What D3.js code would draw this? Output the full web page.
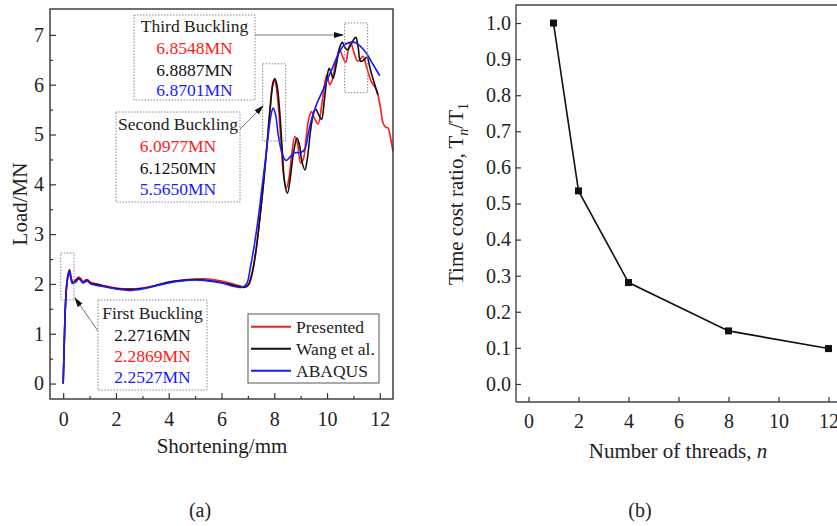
<!DOCTYPE html>
<html>
<head>
<meta charset="utf-8">
<script src="https://cdn.jsdelivr.net/npm/d3@7"></script>
<style>
  body { margin: 0; background: #fff; }
  svg { display: block; font-family: "Liberation Serif", "DejaVu Serif", serif; }
</style>
</head>
<body>
<svg id="chart" width="837" height="526"></svg>
<script>
// Panel (a): load vs shortening, three series as [shortening mm, load MN]
const presented = [
  [0,0],[0.04,0.8],[0.08,1.5],[0.13,1.97],[0.18,2.18],[0.24,2.29],[0.3,2.15],[0.36,2.04],
  [0.45,2.07],[0.6,2.14],[0.76,2.05],[0.9,2.09],[1.05,2.03],[1.2,2.01],[1.5,1.97],[2.0,1.92],
  [2.5,1.9],[3.0,1.92],[3.5,1.97],[4.0,2.03],[4.5,2.08],[5.0,2.1],[5.5,2.1],[6.0,2.06],
  [6.5,1.99],[6.9,1.94],[7.05,2.0],[7.2,2.3],[7.33,2.75],[7.47,3.4],[7.6,4.1],[7.72,4.8],
  [7.85,5.6],[7.94,6.02],[7.99,6.1],[8.05,6.03],[8.15,5.6],[8.25,4.9],[8.35,4.2],[8.46,3.92],
  [8.55,4.1],[8.66,4.6],[8.78,4.96],[8.88,4.82],[9.0,4.43],[9.1,4.5],[9.2,4.9],[9.3,5.3],
  [9.41,5.46],[9.52,5.33],[9.66,5.21],[9.8,5.6],[9.92,6.05],[10.0,6.2],[10.1,6.0],[10.2,6.1],
  [10.35,6.5],[10.48,6.7],[10.6,6.55],[10.71,6.45],[10.8,6.68],[10.9,6.85],[11.0,6.68],
  [11.17,6.47],[11.36,6.57],[11.5,6.35],[11.68,6.06],[11.84,5.93],[11.93,5.8],[12.05,5.45],
  [12.12,5.23],[12.22,5.15],[12.31,5.13],[12.4,4.95],[12.5,4.66]
];
const wang = [
  [0,0],[0.04,0.8],[0.08,1.5],[0.13,1.96],[0.18,2.16],[0.23,2.27],[0.29,2.13],[0.35,2.02],
  [0.45,2.05],[0.6,2.12],[0.76,2.03],[0.9,2.08],[1.05,2.01],[1.2,2.0],[1.5,1.96],[2.0,1.91],
  [2.5,1.89],[3.0,1.91],[3.5,1.97],[4.0,2.04],[4.5,2.07],[5.0,2.09],[5.5,2.07],[6.0,2.03],
  [6.5,1.97],[6.85,1.93],[7.0,1.97],[7.15,2.2],[7.3,2.65],[7.45,3.3],[7.6,4.05],[7.72,4.75],
  [7.85,5.55],[7.95,6.02],[8.02,6.125],[8.1,6.0],[8.2,5.5],[8.3,4.7],[8.4,4.0],[8.5,3.82],
  [8.6,4.1],[8.72,4.6],[8.86,4.93],[8.95,4.8],[9.05,4.45],[9.16,4.29],[9.25,4.5],[9.38,5.1],
  [9.5,5.45],[9.57,5.51],[9.68,5.4],[9.79,5.3],[9.9,5.7],[10.0,6.15],[10.08,6.33],[10.15,6.25],
  [10.23,6.13],[10.35,6.4],[10.48,6.75],[10.58,6.85],[10.68,6.75],[10.76,6.7],[10.9,6.8],
  [11.0,6.9],[11.09,6.95],[11.18,6.75],[11.27,6.47],[11.4,6.5],[11.52,6.55],[11.6,6.4],
  [11.68,6.23],[11.81,6.0],[11.93,5.8]
];
const abaqus = [
  [0,0],[0.04,0.8],[0.08,1.5],[0.13,1.95],[0.18,2.15],[0.23,2.25],[0.29,2.12],[0.35,2.01],
  [0.45,2.03],[0.6,2.1],[0.76,2.02],[0.9,2.06],[1.05,2.0],[1.2,1.98],[1.5,1.95],[2.0,1.9],
  [2.5,1.87],[3.0,1.9],[3.5,1.96],[4.0,2.02],[4.5,2.06],[5.0,2.08],[5.5,2.06],[6.0,2.02],
  [6.4,1.96],[6.76,1.93],[6.95,2.0],[7.1,2.35],[7.25,2.8],[7.4,3.35],[7.55,4.0],[7.7,4.63],
  [7.82,5.2],[7.9,5.45],[7.96,5.53],[8.05,5.4],[8.15,5.0],[8.28,4.65],[8.4,4.5],[8.46,4.48],
  [8.6,4.55],[8.75,4.63],[9.0,4.64],[9.15,4.7],[9.3,5.05],[9.41,5.3],[9.6,5.6],[9.85,5.9],
  [10.05,6.15],[10.23,6.37],[10.4,6.58],[10.6,6.77],[10.8,6.84],[11.05,6.85],[11.25,6.78],
  [11.49,6.63],[11.75,6.4],[12.0,6.18]
];
const seriesNames = ['Presented', 'Wang et al.', 'ABAQUS'];
const seriesColors = ['#ff1a1a', '#111111', '#1a1aff'];

// Buckling annotations: label lines [text, colour]
const thirdLabels = [['Third Buckling', '#222'], ['6.8548MN', '#ff1a1a'], ['6.8887MN', '#111'], ['6.8701MN', '#1a1aff']];
const secondLabels = [['Second Buckling', '#222'], ['6.0977MN', '#ff1a1a'], ['6.1250MN', '#111'], ['5.5650MN', '#1a1aff']];
const firstLabels = [['First Buckling', '#222'], ['2.2716MN', '#111'], ['2.2869MN', '#ff1a1a'], ['2.2527MN', '#1a1aff']];

// Panel (b): time cost ratio vs number of threads
const threads = [1, 2, 4, 8, 12];
const timeRatio = [1.0, 0.535, 0.281, 0.147, 0.098];

const svg = d3.select('#chart');
const defs = svg.append('defs');
defs.append('marker')
  .attr('id', 'arrowHead')
  .attr('markerWidth', 10)
  .attr('markerHeight', 8)
  .attr('refX', 9)
  .attr('refY', 4)
  .attr('orient', 'auto')
  .attr('markerUnits', 'userSpaceOnUse')
  .append('polygon')
  .attr('points', '0 1, 10 4, 0 7')
  .attr('fill', '#111');

// ---------- Panel (a) ----------
const a = { left: 50, right: 393, top: 9, bottom: 399 };
const xa = d3.scaleLinear().domain([-0.5, 12.5]).range([a.left, a.right]);
const ya = d3.scaleLinear().domain([-0.31, 7.52]).range([a.bottom, a.top]);

const gA = svg.append('g');

// inward ticks
gA.append('g')
  .attr('transform', `translate(0,${a.bottom})`)
  .call(d3.axisBottom(xa).tickValues(d3.range(1, 13, 2)).tickSize(-3).tickFormat(''))
  .call(g => g.select('.domain').remove());
gA.append('g')
  .attr('transform', `translate(0,${a.bottom})`)
  .call(d3.axisBottom(xa).tickValues(d3.range(0, 13, 2)).tickSize(-6).tickPadding(13))
  .call(g => g.select('.domain').remove());
gA.append('g')
  .attr('transform', `translate(${a.left},0)`)
  .call(d3.axisLeft(ya).tickValues(d3.range(0.5, 7.5, 1)).tickSize(-3).tickFormat(''))
  .call(g => g.select('.domain').remove());
gA.append('g')
  .attr('transform', `translate(${a.left},0)`)
  .call(d3.axisLeft(ya).tickValues(d3.range(0, 8)).tickSize(-6).tickPadding(6))
  .call(g => g.select('.domain').remove());

gA.selectAll('.tick line').attr('stroke', '#333').attr('stroke-width', 1.2);
gA.selectAll('.tick text').attr('font-size', 20).attr('fill', '#222')
  .attr('font-family', '"Liberation Serif", serif');

const line = d3.line()
  .x(d => xa(d[0]))
  .y(d => ya(d[1]))
  .curve(d3.curveCatmullRom.alpha(0.5));

[presented, wang, abaqus].forEach((s, i) => {
  gA.append('path')
    .datum(s)
    .attr('fill', 'none')
    .attr('stroke', seriesColors[i])
    .attr('stroke-width', 1.6)
    .attr('d', line);
});

gA.append('rect')
  .attr('x', a.left).attr('y', a.top)
  .attr('width', a.right - a.left).attr('height', a.bottom - a.top)
  .attr('fill', 'none').attr('stroke', '#333').attr('stroke-width', 1.4);

// dotted rectangles marking buckling peaks (data coords)
const peakBoxes = [
  [10.67, 11.54, 5.84, 7.24],
  [7.56, 8.43, 4.87, 6.42],
  [-0.09, 0.41, 1.68, 2.62]
];
peakBoxes.forEach(b => {
  gA.append('rect')
    .attr('x', xa(b[0])).attr('y', ya(b[3]))
    .attr('width', xa(b[1]) - xa(b[0])).attr('height', ya(b[2]) - ya(b[3]))
    .attr('fill', 'none').attr('stroke', '#888').attr('stroke-width', 1)
    .attr('stroke-dasharray', '1.5,1.5');
});

function labelBox(x, y, w, h, lines, baselines) {
  gA.append('rect')
    .attr('x', x).attr('y', y).attr('width', w).attr('height', h)
    .attr('fill', '#fff').attr('stroke', '#888').attr('stroke-width', 1)
    .attr('stroke-dasharray', '1.5,1.5');
  lines.forEach((l, i) => {
    gA.append('text')
      .attr('x', x + w / 2).attr('y', baselines[i])
      .attr('text-anchor', 'middle')
      .attr('font-size', 17.5)
      .attr('fill', l[1])
      .text(l[0]);
  });
}

function arrow(x1, y1, x2, y2) {
  gA.append('line')
    .attr('x1', x1).attr('y1', y1).attr('x2', x2).attr('y2', y2)
    .attr('stroke', '#777').attr('stroke-width', 1)
    .attr('marker-end', 'url(#arrowHead)');
}

arrow(255, 35, 343, 35);
arrow(240, 129, 263, 106);
arrow(98, 331, 75, 298);

labelBox(134, 15, 121, 85, thirdLabels, [32, 54, 76, 96]);
labelBox(116, 112, 124, 90, secondLabels, [130, 152, 174, 195]);
labelBox(98, 300, 109, 90, firstLabels, [319, 341, 362, 383]);

// legend
const leg = gA.append('g');
leg.append('rect')
  .attr('x', 248).attr('y', 314).attr('width', 131).attr('height', 69)
  .attr('fill', '#fff').attr('stroke', '#555').attr('stroke-width', 1);
seriesNames.forEach((name, i) => {
  const cy = 326.7 + i * 22;
  leg.append('line')
    .attr('x1', 251).attr('x2', 291).attr('y1', cy).attr('y2', cy)
    .attr('stroke', seriesColors[i]).attr('stroke-width', 2);
  leg.append('text')
    .attr('x', 296).attr('y', cy + 6)
    .attr('font-size', 17.5).attr('fill', '#222')
    .text(name);
});

gA.append('text')
  .attr('x', 222).attr('y', 453)
  .attr('text-anchor', 'middle').attr('font-size', 21).attr('fill', '#222')
  .text('Shortening/mm');
gA.append('text')
  .attr('transform', 'translate(27,204) rotate(-90)')
  .attr('text-anchor', 'middle').attr('font-size', 21).attr('fill', '#222')
  .text('Load/MN');
gA.append('text')
  .attr('x', 200).attr('y', 517)
  .attr('text-anchor', 'middle').attr('font-size', 20).attr('fill', '#222')
  .text('(a)');

// ---------- Panel (b) ----------
const b = { left: 516, right: 841, top: 5, bottom: 402 };
const xb = d3.scaleLinear().domain([-0.5, 12.5]).range([b.left, b.right]);
const yb = d3.scaleLinear().domain([-0.05, 1.05]).range([b.bottom, b.top]);

const gB = svg.append('g');
gB.append('g')
  .attr('transform', `translate(0,${b.bottom})`)
  .call(d3.axisBottom(xb).tickValues(d3.range(0, 13, 2)).tickSize(-5).tickPadding(12))
  .call(g => g.select('.domain').remove());
gB.append('g')
  .attr('transform', `translate(${b.left},0)`)
  .call(d3.axisLeft(yb).tickValues(d3.range(0, 1.01, 0.1)).tickSize(-5).tickPadding(5)
    .tickFormat(d3.format('.1f')))
  .call(g => g.select('.domain').remove());
gB.selectAll('.tick line').attr('stroke', '#333').attr('stroke-width', 1.2);
gB.selectAll('.tick text').attr('font-size', 20).attr('fill', '#222')
  .attr('font-family', '"Liberation Serif", serif');

gB.append('path')
  .attr('d', `M${b.left},${b.bottom}H${b.right}M${b.left},${b.bottom}V${b.top}H${b.right}`)
  .attr('fill', 'none').attr('stroke', '#444').attr('stroke-width', 1.4);

const ratioData = threads.map((t, i) => [t, timeRatio[i]]);
gB.append('path')
  .datum(ratioData)
  .attr('fill', 'none').attr('stroke', '#111').attr('stroke-width', 1.6)
  .attr('d', d3.line().x(d => xb(d[0])).y(d => yb(d[1])));
gB.selectAll('rect.pt')
  .data(ratioData)
  .join('rect')
  .attr('class', 'pt')
  .attr('x', d => xb(d[0]) - 3.5).attr('y', d => yb(d[1]) - 3.5)
  .attr('width', 7).attr('height', 7)
  .attr('fill', '#111');

const xTitle = gB.append('text')
  .attr('x', 678).attr('y', 458)
  .attr('text-anchor', 'middle').attr('font-size', 21).attr('fill', '#222');
xTitle.append('tspan').text('Number of threads, ');
xTitle.append('tspan').attr('font-style', 'italic').text('n');

const yTitle = gB.append('text')
  .attr('transform', 'translate(463,194) rotate(-90)')
  .attr('text-anchor', 'middle').attr('font-size', 21).attr('fill', '#222');
yTitle.append('tspan').text('Time cost ratio, T');
yTitle.append('tspan').attr('font-style', 'italic').attr('font-size', 14).attr('dy', 5).text('n');
yTitle.append('tspan').attr('dy', -5).text('/T');
yTitle.append('tspan').attr('font-size', 14).attr('dy', 5).text('1');

gB.append('text')
  .attr('x', 640).attr('y', 517)
  .attr('text-anchor', 'middle').attr('font-size', 20).attr('fill', '#222')
  .text('(b)');
</script>
</body>
</html>
